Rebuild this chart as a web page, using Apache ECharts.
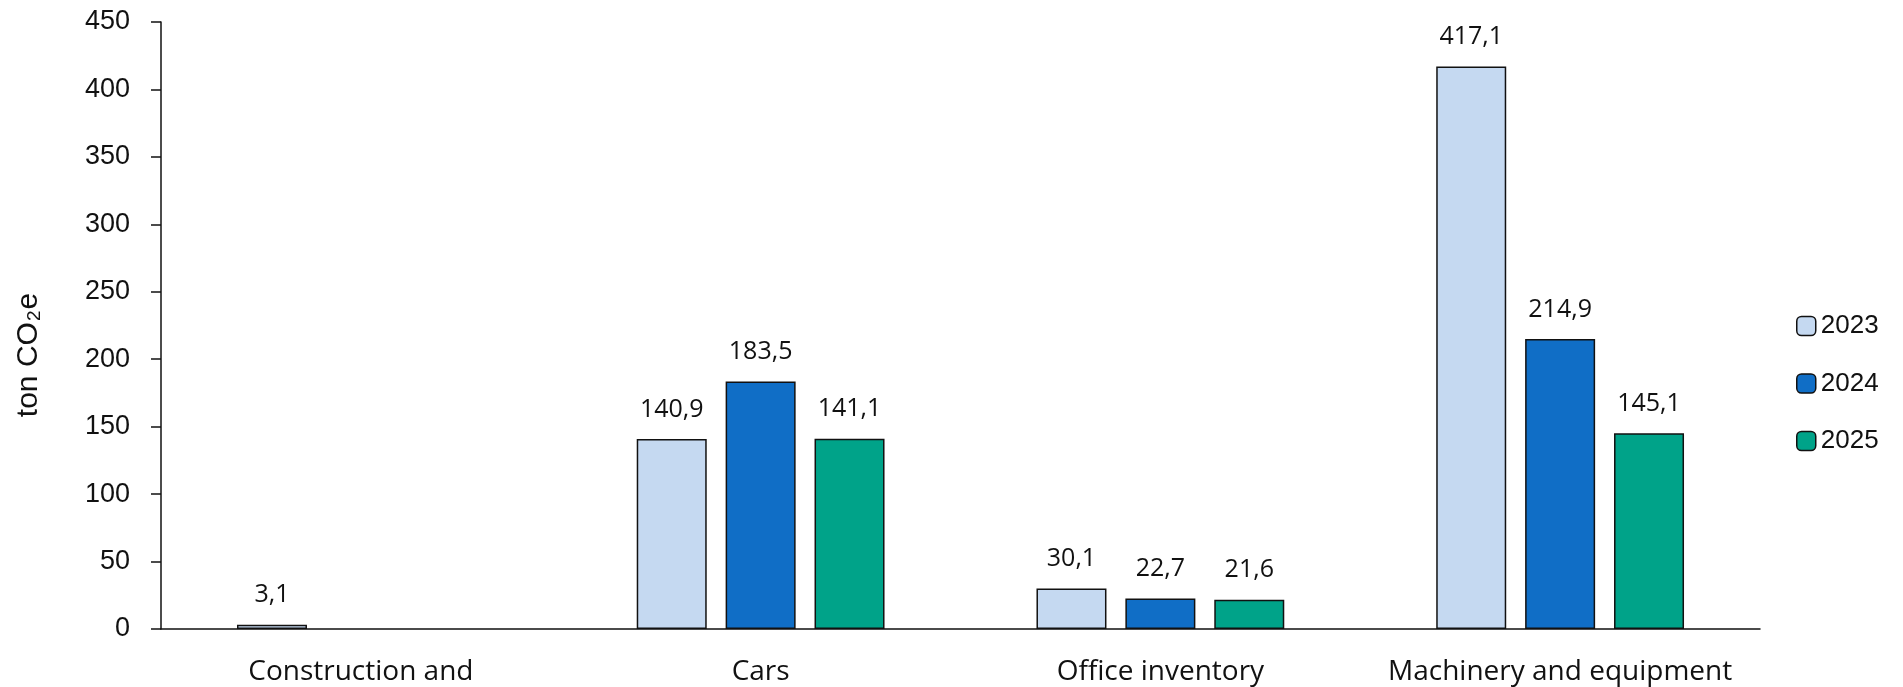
<!DOCTYPE html>
<html>
<head>
<meta charset="utf-8">
<script src="https://cdn.jsdelivr.net/npm/echarts@6/dist/echarts.min.js"></script>
<style>
  html, body { margin: 0; padding: 0; background: #fff; }
  #chart { width: 1903px; height: 687px; }
</style>
</head>
<body>
<div id="chart"></div>
<script>
// Emissions by asset category and year
const categories = ['Construction and', 'Cars', 'Office inventory', 'Machinery and equipment'];
const years = ['2023', '2024', '2025'];
const values2023 = [3.1, 140.9, 30.1, 417.1];
const values2024 = [null, 183.5, 22.7, 214.9];
const values2025 = [null, 141.1, 21.6, 145.1];
const yearColors = ['#C5D9F1', '#106EC6', '#00A389'];

const labelFont = '"Open Sans", "Noto Sans", sans-serif';
const tickFont = '"Liberation Sans", Arial, sans-serif';

function fmt(v) {
  return v.toFixed(1).replace('.', ',');
}

function makeSeries(name, data, color) {
  return {
    name: name,
    type: 'bar',
    data: data,
    barWidth: 70,
    barGap: '27%',
    itemStyle: { color: color, borderColor: '#111', borderWidth: 1.5 },
    label: {
      show: true,
      position: 'top',
      distance: 17,
      color: '#111',
      fontFamily: labelFont,
      fontSize: 25,
      formatter: p => (p.value == null ? '' : fmt(p.value))
    }
  };
}

const chart = echarts.init(document.getElementById('chart'));
chart.setOption({
  animation: false,
  backgroundColor: '#fff',
  grid: { left: 161, right: 143, top: 22, bottom: 58 },
  graphic: [{
    type: 'text',
    x: 29,
    y: 355,
    rotation: Math.PI / 2,
    style: {
      text: 'ton CO{sub|2}e',
      fill: '#111',
      font: '30px "Liberation Sans", Arial, sans-serif',
      align: 'center',
      verticalAlign: 'middle',
      rich: {
        sub: { fontFamily: tickFont, fontSize: 19, fill: '#111', verticalAlign: 'bottom', padding: [12, 1, 0, 1] }
      }
    }
  }],
  legend: {
    orient: 'vertical',
    left: 1796,
    top: 313,
    padding: 0,
    itemWidth: 19,
    itemHeight: 19,
    itemGap: 31.5,
    data: years,
    textStyle: { color: '#111', fontFamily: tickFont, fontSize: 26 },
    itemStyle: { borderColor: '#111', borderWidth: 1.5 }
  },
  xAxis: {
    type: 'category',
    data: categories,
    axisLine: { lineStyle: { color: '#111', width: 1.5 } },
    axisTick: { show: false },
    axisLabel: { interval: 0, color: '#111', fontFamily: labelFont, fontSize: 28, margin: 29 }
  },
  yAxis: {
    type: 'value',
    min: 0,
    max: 450,
    interval: 50,
    axisLine: { show: true, lineStyle: { color: '#111', width: 1.5 } },
    axisTick: { show: true, length: 10, lineStyle: { color: '#111', width: 1.5 } },
    splitLine: { show: false },
    axisLabel: { color: '#111', fontFamily: tickFont, fontSize: 27, margin: 31 }
  },
  series: [
    makeSeries(years[0], values2023, yearColors[0]),
    makeSeries(years[1], values2024, yearColors[1]),
    makeSeries(years[2], values2025, yearColors[2])
  ]
});
</script>
</body>
</html>
